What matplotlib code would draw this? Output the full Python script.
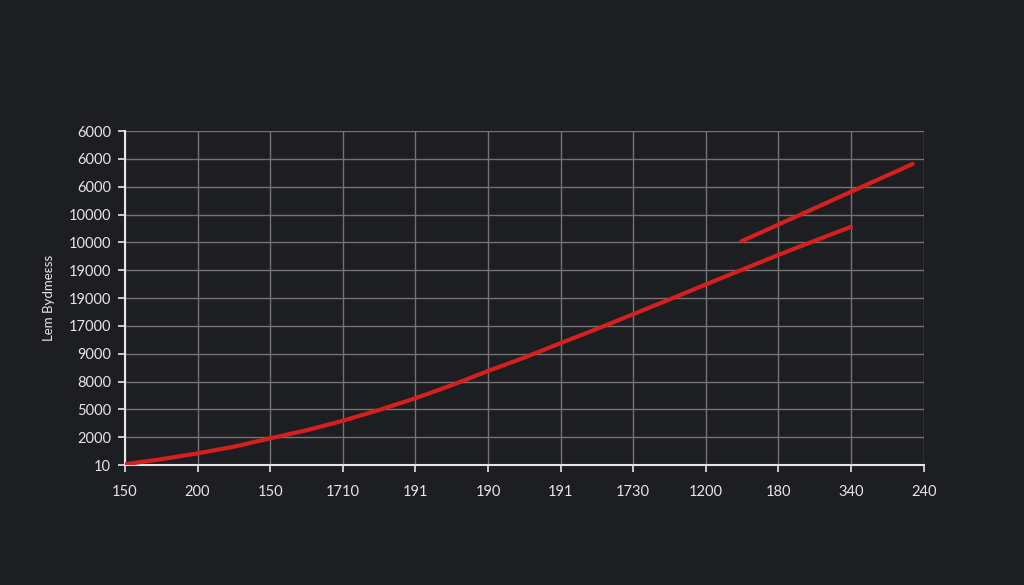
import matplotlib.pyplot as plt

# tick labels as printed on the chart
x_labels = ["150", "200", "150", "1710", "191", "190", "191", "1730", "1200", "180", "340", "240"]
y_labels = ["10", "2000", "5000", "8000", "9000", "17000", "19000", "19000",
            "10000", "10000", "6000", "6000", "6000"]

# main curve, read at every half tick (in tick-index units)
main_x = [0, 0.5, 1, 1.5, 2, 2.5, 3, 3.5, 4, 4.5, 5,
          5.5, 6, 6.5, 7, 7.5, 8, 8.5, 9, 9.5, 10]
main_y = [0.03, 0.21, 0.42, 0.66, 0.96, 1.25, 1.59, 1.98, 2.40, 2.87, 3.38,
          3.86, 4.38, 4.89, 5.42, 5.95, 6.49, 7.02, 7.55, 8.06, 8.56]

# short upper segment
upper_x = [8.49, 10.85]
upper_y = [8.04, 10.82]

bg = "#1d1e21"
fg = "#e6e6e6"
red = "#d61f1f"

plt.rcParams['font.family'] = ['Lato', 'DejaVu Sans']

fig = plt.figure(figsize=(10.24, 5.85), dpi=100, facecolor=bg)
ax = fig.add_axes([0.122, 0.205, 0.780, 0.571], facecolor=bg)

ax.plot(main_x, main_y, color=red, lw=3, solid_capstyle="round",
        solid_joinstyle="round", zorder=3)
ax.plot(upper_x, upper_y, color=red, lw=3, solid_capstyle="round", zorder=3)

ax.set_xlim(0, len(x_labels) - 1)
ax.set_ylim(0, len(y_labels) - 1)
ax.set_xticks(range(len(x_labels)))
ax.set_xticklabels(x_labels)
ax.set_yticks(range(len(y_labels)))
ax.set_yticklabels(y_labels)

ax.grid(True, color="#747474", lw=1)
ax.set_axisbelow(True)

for side in ["top", "right"]:
    ax.spines[side].set_visible(False)
for side in ["left", "bottom"]:
    ax.spines[side].set_color(fg)
    ax.spines[side].set_linewidth(1.5)

ax.tick_params(axis="both", colors=fg, labelsize=10.5, length=5, width=1.2)
ax.tick_params(axis="x", pad=9)
ax.tick_params(axis="y", pad=5)

ax.set_ylabel("Lem Bydmeεss", color=fg, fontsize=9.5, labelpad=10)

fig.savefig("out.png", facecolor=bg)
